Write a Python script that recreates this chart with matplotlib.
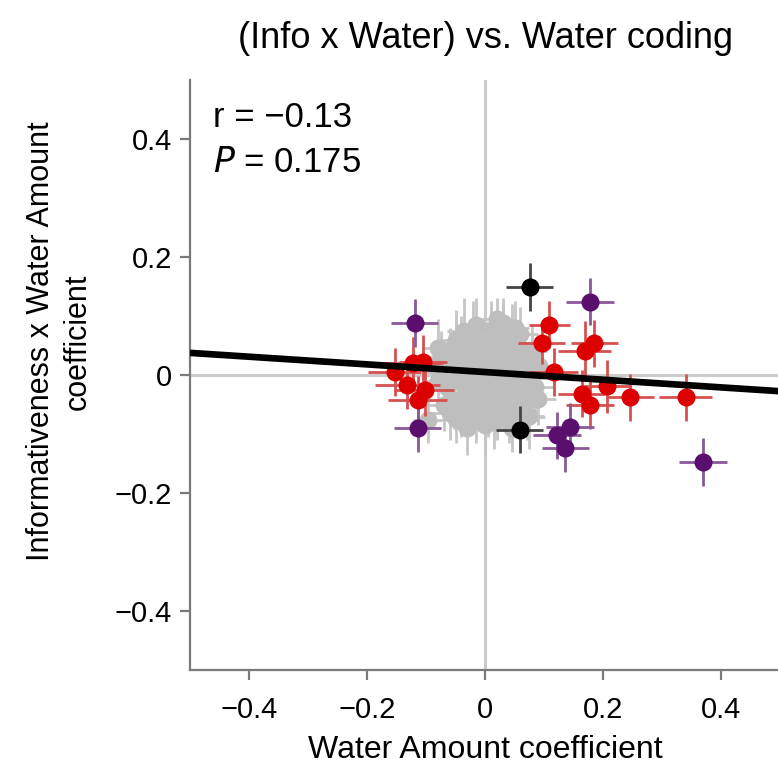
import matplotlib
matplotlib.use("Agg")
import matplotlib.pyplot as plt
import numpy as np

plt.rcParams['font.family'] = ['Liberation Sans', 'DejaVu Sans']

# ---------------- data ----------------
gray_x = [-0.06, -0.05, -0.045, -0.04, -0.035, -0.03, -0.025, -0.02, -0.02, -0.015,
          -0.01, -0.005, 0.0, 0.0, 0.005, 0.01, 0.01, 0.015, 0.02, 0.02,
          0.025, 0.03, 0.03, 0.035, 0.04, 0.04, 0.045, 0.05, 0.05, 0.055,
          0.06, 0.06, 0.065, 0.07, 0.07, 0.075, 0.08, 0.085, -0.065, -0.07,
          -0.055, -0.05, -0.04, -0.035, -0.03, -0.025, -0.015, -0.01, -0.005, 0.005,
          0.01, 0.015, 0.02, 0.025, 0.035, 0.04, 0.045, 0.055, 0.065, -0.06,
          -0.045, -0.02, -0.01, 0.0, 0.0, 0.015, 0.03, 0.05, -0.08, -0.075,
          -0.097, 0.071, 0.03, -0.03, 0.0, -0.05, 0.06, -0.015, 0.09, -0.085,
          0.08, 0.092, -0.07, -0.08, 0.045, 0.02, -0.06, 0.05]
gray_y = [0.02, 0.04, -0.01, 0.055, 0.01, -0.03, 0.035, 0.065, -0.005, 0.02,
          -0.045, 0.045, 0.005, -0.02, 0.03, 0.06, -0.035, 0.015, -0.06, 0.04,
          -0.01, 0.02, 0.085, -0.04, 0.05, 0.0, -0.02, 0.03, -0.055, 0.01,
          -0.03, 0.045, -0.005, 0.02, -0.045, -0.07, 0.0, -0.02, -0.02, 0.005,
          -0.04, 0.06, -0.06, 0.075, 0.045, -0.015, -0.07, 0.03, -0.025, -0.055,
          0.075, -0.08, 0.0, 0.055, 0.035, -0.075, 0.065, -0.01, 0.035, 0.04,
          0.025, -0.04, 0.01, 0.05, -0.065, -0.015, -0.03, 0.005, -0.01, 0.03,
          -0.076, -0.071, 0.088, -0.09, -0.085, -0.075, 0.07, 0.085, -0.04, 0.015,
          0.04, 0.015, -0.05, 0.045, -0.09, 0.095, -0.065, 0.08]
gray_xerr = [0.03, 0.025, 0.035, 0.03, 0.02, 0.03, 0.025, 0.03, 0.035, 0.02,
             0.03, 0.025, 0.03, 0.035, 0.02, 0.03, 0.025, 0.03, 0.03, 0.025,
             0.035, 0.02, 0.03, 0.025, 0.03, 0.035, 0.02, 0.03, 0.025, 0.03,
             0.03, 0.025, 0.035, 0.02, 0.03, 0.025, 0.03, 0.03, 0.025, 0.035,
             0.02, 0.03, 0.025, 0.03, 0.03, 0.025, 0.035, 0.02, 0.03, 0.025,
             0.03, 0.03, 0.025, 0.035, 0.02, 0.03, 0.025, 0.03, 0.03, 0.025,
             0.035, 0.02, 0.03, 0.025, 0.03, 0.03, 0.025, 0.035, 0.02, 0.03,
             0.025, 0.03, 0.03, 0.025, 0.035, 0.02, 0.03, 0.025, 0.03, 0.03,
             0.025, 0.03, 0.03, 0.025, 0.03, 0.025, 0.03, 0.025]
gray_yerr = [0.04, 0.05, 0.035, 0.045, 0.04, 0.05, 0.045, 0.06, 0.04, 0.035,
             0.05, 0.045, 0.04, 0.05, 0.035, 0.05, 0.045, 0.04, 0.05, 0.045,
             0.04, 0.035, 0.045, 0.05, 0.045, 0.04, 0.035, 0.05, 0.045, 0.04,
             0.05, 0.045, 0.04, 0.035, 0.05, 0.055, 0.04, 0.05, 0.045, 0.04,
             0.035, 0.05, 0.045, 0.055, 0.04, 0.05, 0.045, 0.04, 0.035, 0.05,
             0.05, 0.045, 0.05, 0.045, 0.04, 0.04, 0.055, 0.05, 0.045, 0.04,
             0.035, 0.05, 0.045, 0.04, 0.05, 0.045, 0.04, 0.035, 0.05, 0.045,
             0.04, 0.04, 0.035, 0.045, 0.05, 0.04, 0.045, 0.045, 0.045, 0.04,
             0.045, 0.04, 0.045, 0.05, 0.04, 0.035, 0.045, 0.045]

red_x = [0.109, 0.096, 0.185, 0.169, 0.117, 0.164, 0.178, 0.207, 0.246, 0.340,
         -0.153, -0.122, -0.105, -0.132, -0.102, -0.114]
red_y = [0.085, 0.054, 0.054, 0.041, 0.005, -0.032, -0.051, -0.019, -0.038, -0.038,
         0.005, 0.020, 0.022, -0.017, -0.025, -0.042]
red_xerr = [0.035, 0.040, 0.040, 0.045, 0.040, 0.040, 0.040, 0.040, 0.040, 0.045,
            0.045, 0.050, 0.040, 0.055, 0.050, 0.050]
red_yerr = [0.040, 0.035, 0.040, 0.050, 0.040, 0.040, 0.040, 0.045, 0.040, 0.040,
            0.040, 0.045, 0.045, 0.040, 0.045, 0.040]

purple_x = [-0.119, -0.114, 0.178, 0.144, 0.122, 0.136, 0.369]
purple_y = [0.088, -0.090, 0.124, -0.088, -0.102, -0.124, -0.147]
purple_xerr = [0.040, 0.040, 0.040, 0.040, 0.040, 0.040, 0.041]
purple_yerr = [0.040, 0.040, 0.040, 0.040, 0.040, 0.040, 0.041]

black_x = [0.076, 0.059]
black_y = [0.149, -0.093]
black_xerr = [0.040, 0.040]
black_yerr = [0.040, 0.040]

fit_slope = -0.065
fit_intercept = 0.005

r_text = "r = \u22120.13"
p_value = "0.175"

x_ticks = [-0.4, -0.2, 0, 0.2, 0.4]
x_ticklabels = ["\u22120.4", "\u22120.2", "0", "0.2", "0.4"]
y_ticks = [-0.4, -0.2, 0, 0.2, 0.4]
y_ticklabels = ["\u22120.4", "\u22120.2", "0", "0.2", "0.4"]

# ---------------- figure ----------------
fig = plt.figure(figsize=(7.78, 7.70), dpi=100)
ax = fig.add_axes([190 / 778, 100 / 770, 590 / 778, 590 / 770])
ax.set_xlim(-0.5, 0.5)
ax.set_ylim(-0.5, 0.5)

ax.axhline(0, color='#cccccc', lw=2.2, zorder=0)
ax.axvline(0, color='#cccccc', lw=2.2, zorder=0)

ms = 13
elw = 2.0
ax.errorbar(gray_x, gray_y, xerr=gray_xerr, yerr=gray_yerr, fmt='o', ms=ms,
            color='#bebebe', ecolor='#c6c6c6', elinewidth=elw, capsize=0,
            mec='none', zorder=2)
ax.errorbar(red_x, red_y, xerr=red_xerr, yerr=red_yerr, fmt='o', ms=ms,
            color='#dd0000', ecolor='#d65050', elinewidth=elw, capsize=0,
            mec='none', zorder=3)
ax.errorbar(purple_x, purple_y, xerr=purple_xerr, yerr=purple_yerr, fmt='o', ms=ms,
            color='#5a0f6e', ecolor='#8a5a98', elinewidth=elw, capsize=0,
            mec='none', zorder=3)
ax.errorbar(black_x, black_y, xerr=black_xerr, yerr=black_yerr, fmt='o', ms=ms,
            color='#000000', ecolor='#444444', elinewidth=elw, capsize=0,
            mec='none', zorder=3)

fx = np.array(ax.get_xlim())
ax.plot(fx, fit_intercept + fit_slope * fx, color='black', lw=4.8, zorder=5,
        solid_capstyle='butt')

ax.text(0.039, 0.920, r_text, transform=ax.transAxes, fontsize=25,
        va='baseline', ha='left')
ax.text(0.039, 0.844, r"$\it{P}$" + " = " + p_value, transform=ax.transAxes,
        fontsize=25, va='baseline', ha='left')

ax.set_xticks(x_ticks)
ax.set_xticklabels(x_ticklabels)
ax.set_yticks(y_ticks)
ax.set_yticklabels(y_ticklabels)

for s in ['top', 'right']:
    ax.spines[s].set_visible(False)
for s in ['left', 'bottom']:
    ax.spines[s].set_color('#7a7a7a')
    ax.spines[s].set_linewidth(1.6)
ax.tick_params(axis='both', direction='out', length=7, width=1.6,
               color='#7a7a7a', labelsize=21, labelcolor='black', pad=6)
ax.tick_params(axis='x', pad=12)

ax.set_title("(Info x Water) vs. Water coding", fontsize=26, pad=23)
ax.set_xlabel("Water Amount coefficient", fontsize=23, labelpad=8)
ax.set_ylabel("Informativeness x Water Amount\ncoefficient", fontsize=22,
              linespacing=1.3)
ax.yaxis.set_label_coords(-0.165, 0.557)

fig.savefig("out.png", dpi=100)
